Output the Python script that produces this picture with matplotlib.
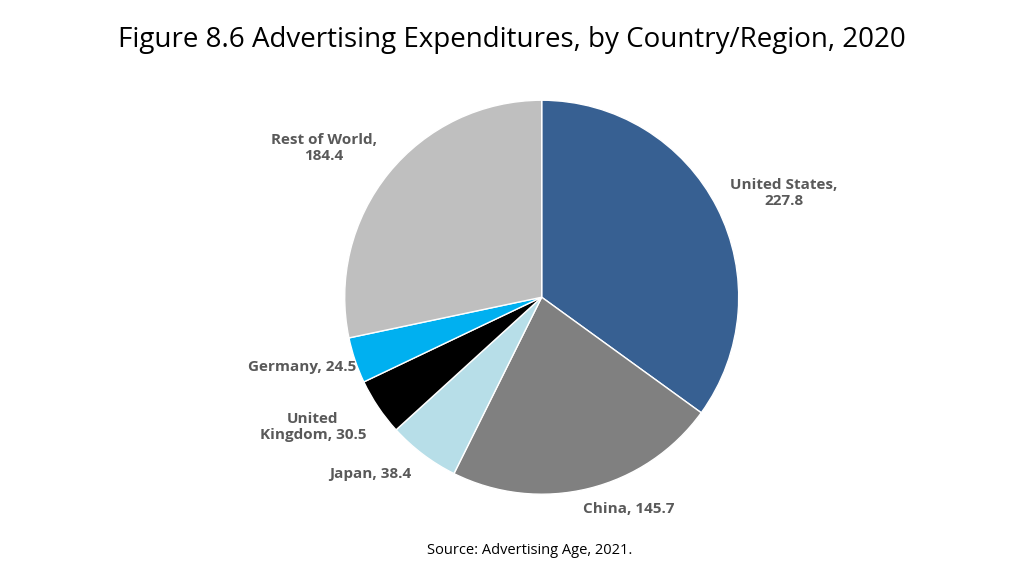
import matplotlib.pyplot as plt

countries = ["United States", "China", "Japan", "United\nKingdom", "Germany", "Rest of World"]
values = [227.8, 145.7, 38.4, 30.5, 24.5, 184.4]
colors = ["#376092", "#808080", "#B7DEE8", "#000000", "#00B0F0", "#BFBFBF"]
label_text = ["United States,\n227.8", "China, 145.7", "Japan, 38.4",
              "United\nKingdom, 30.5", "Germany, 24.5", "Rest of World,\n184.4"]
label_pos = [(1.228, 0.528), (0.442, -1.076), (-0.868, -0.899),
             (-1.162, -0.66), (-1.218, -0.355), (-1.107, 0.756)]

fig = plt.figure(figsize=(10.24, 5.76), dpi=100)
fig.patch.set_facecolor("white")
ax = fig.add_axes([0.529 - 0.1924, 0.484 - 0.342, 0.3848, 0.684])
ax.pie(values, colors=colors, startangle=90, counterclock=False,
       wedgeprops=dict(edgecolor="white", linewidth=1))
ax.set_xlim(-1, 1)
ax.set_ylim(-1, 1)
ax.set_aspect("equal")

for txt, (x, y) in zip(label_text, label_pos):
    ax.text(x, y, txt, ha="center", va="center", fontsize=11, fontweight="bold",
            color="#595959", family="Open Sans", clip_on=False)

fig.text(0.5, 0.93, "Figure 8.6 Advertising Expenditures, by Country/Region, 2020",
         ha="center", va="center", fontsize=20, family="Open Sans", color="#000000")
fig.text(0.517, 0.045, "Source: Advertising Age, 2021.", ha="center", va="center",
         fontsize=10.5, family="Open Sans")

fig.savefig("out.png", dpi=100)
